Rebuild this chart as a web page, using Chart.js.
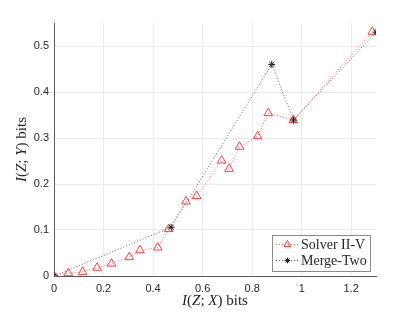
<!DOCTYPE html>
<html>
<head>
<meta charset="utf-8">
<script src="https://cdn.jsdelivr.net/npm/chart.js@4.4.1/dist/chart.umd.min.js"></script>
<style>
  html, body { margin: 0; padding: 0; background: #fff; }
  canvas { display: block; }
</style>
</head>
<body>
<canvas id="chart" width="415" height="312"></canvas>
<script>
// Solver II-V curve
const solverX = [0, 0.058, 0.116, 0.174, 0.232, 0.304, 0.347, 0.419, 0.463, 0.533, 0.576, 0.677, 0.707, 0.749, 0.822, 0.865, 0.966, 1.285];
const solverY = [0, 0.006, 0.009, 0.018, 0.027, 0.041, 0.056, 0.062, 0.102, 0.162, 0.174, 0.251, 0.233, 0.281, 0.304, 0.354, 0.339, 0.531];

// Merge-Two curve
const mergeX = [0, 0.473, 0.879, 0.967, 1.30];
const mergeY = [0, 0.106, 0.460, 0.339, 0.530];

// tick labels
const xTicks = [0, 0.2, 0.4, 0.6, 0.8, 1, 1.2];
const yTicks = [0, 0.1, 0.2, 0.3, 0.4, 0.5];

const seriesNames = ['Solver II-V', 'Merge-Two'];

const toPoints = (xs, ys) => xs.map((x, i) => ({ x: x, y: ys[i] }));

const tickFont = { family: '"Liberation Sans", Arial, sans-serif', size: 11 };
const serif = '"Liberation Serif", "Times New Roman", serif';
const textColor = '#262626';
const axisColor = '#5a5a5a';
const gridColor = '#ebebeb';

const redStyle = {
    line: 'rgba(255, 40, 40, 0.75)',
    point: 'rgba(255, 30, 30, 0.85)'
};
const blackStyle = {
    line: '#5c5c5c',
    point: '#1e1e1e'
};

// draw a string made of italic / upright pieces
const drawMixed = (ctx, parts, size) => {
    const fonts = parts.map(p => (p[1] ? 'italic ' : '') + size + 'px ' + serif);
    let total = 0;
    parts.forEach((p, i) => {
        ctx.font = fonts[i];
        total += ctx.measureText(p[0]).width;
    });
    let x = -total / 2;
    parts.forEach((p, i) => {
        ctx.font = fonts[i];
        ctx.fillText(p[0], x, 0);
        x += ctx.measureText(p[0]).width;
    });
};

const decorPlugin = {
    id: 'decor',
    afterDraw(chart) {
        const ctx = chart.ctx;
        const area = chart.chartArea;
        ctx.save();
        ctx.fillStyle = textColor;
        ctx.textBaseline = 'middle';
        ctx.textAlign = 'left';

        // x title
        ctx.save();
        ctx.translate((area.left + area.right) / 2, 301);
        drawMixed(ctx, [['I', 1], ['(', 0], ['Z', 1], ['; ', 0], ['X', 1], [') bits', 0]], 15);
        ctx.restore();

        // y title
        ctx.save();
        ctx.translate(22, (area.top + area.bottom) / 2);
        ctx.rotate(-Math.PI / 2);
        drawMixed(ctx, [['I', 1], ['(', 0], ['Z', 1], ['; ', 0], ['Y', 1], [') bits', 0]], 15);
        ctx.restore();

        // legend box
        const bx = 272, by = 235, bw = 98, bh = 36;
        ctx.fillStyle = '#fff';
        ctx.fillRect(bx, by, bw, bh);
        ctx.strokeStyle = '#8a8a8a';
        ctx.lineWidth = 1;
        ctx.strokeRect(bx + 0.5, by + 0.5, bw, bh);

        const rows = [
            { y: 244.5, ds: chart.data.datasets[0] },
            { y: 260.5, ds: chart.data.datasets[1] }
        ];
        rows.forEach((r, i) => {
            ctx.save();
            ctx.strokeStyle = r.ds.borderColor;
            ctx.lineWidth = 1;
            ctx.setLineDash([1, 2]);
            ctx.beginPath();
            ctx.moveTo(276, r.y);
            ctx.lineTo(299, r.y);
            ctx.stroke();
            ctx.restore();

            ctx.save();
            ctx.strokeStyle = r.ds.pointBorderColor;
            ctx.fillStyle = 'rgba(0,0,0,0)';
            ctx.lineWidth = 1;
            Chart.helpers.drawPoint(ctx, {
                pointStyle: r.ds.pointStyle,
                radius: r.ds.pointRadius * 0.8,
                rotation: 0,
                borderWidth: 1
            }, 287.5, r.y);
            ctx.restore();

            ctx.fillStyle = textColor;
            ctx.font = '14px ' + serif;
            ctx.fillText(seriesNames[i], 301, r.y + 0.5);
        });
        ctx.restore();
    }
};

new Chart(document.getElementById('chart'), {
    type: 'scatter',
    data: {
        datasets: [
            {
                label: seriesNames[0],
                data: toPoints(solverX, solverY),
                showLine: true,
                borderColor: redStyle.line,
                borderWidth: 1,
                borderDash: [1, 2],
                pointStyle: 'triangle',
                pointRadius: 5,
                pointBorderColor: redStyle.point,
                pointBackgroundColor: 'rgba(0,0,0,0)',
                pointBorderWidth: 1,
                order: 1
            },
            {
                label: seriesNames[1],
                data: toPoints(mergeX, mergeY),
                showLine: true,
                borderColor: blackStyle.line,
                borderWidth: 1,
                borderDash: [1, 2],
                pointStyle: 'star',
                pointRadius: 3.5,
                pointBorderColor: blackStyle.point,
                pointBackgroundColor: 'rgba(0,0,0,0)',
                pointBorderWidth: 1,
                order: 0
            }
        ]
    },
    options: {
        responsive: false,
        animation: false,
        devicePixelRatio: 1,
        layout: { padding: { top: 23, right: 39, left: 0, bottom: 0 } },
        plugins: {
            legend: { display: false },
            tooltip: { enabled: false }
        },
        scales: {
            x: {
                type: 'linear',
                min: 0,
                max: 1.3,
                afterBuildTicks: (scale) => { scale.ticks = xTicks.map(v => ({ value: v })); },
                afterFit: (scale) => { scale.height = 36; },
                grid: { color: gridColor, drawTicks: false },
                border: { display: true, color: axisColor, width: 1 },
                ticks: {
                    font: tickFont,
                    color: textColor,
                    padding: 6,
                    maxRotation: 0,
                    callback: (v) => String(+v.toFixed(2))
                }
            },
            y: {
                type: 'linear',
                min: 0,
                max: 0.55,
                afterBuildTicks: (scale) => { scale.ticks = yTicks.map(v => ({ value: v })); },
                afterFit: (scale) => { scale.width = 54; },
                grid: { color: gridColor, drawTicks: false },
                border: { display: true, color: axisColor, width: 1 },
                ticks: {
                    font: tickFont,
                    color: textColor,
                    padding: 5,
                    callback: (v) => String(+v.toFixed(2))
                }
            }
        }
    },
    plugins: [decorPlugin]
});
</script>
</body>
</html>
